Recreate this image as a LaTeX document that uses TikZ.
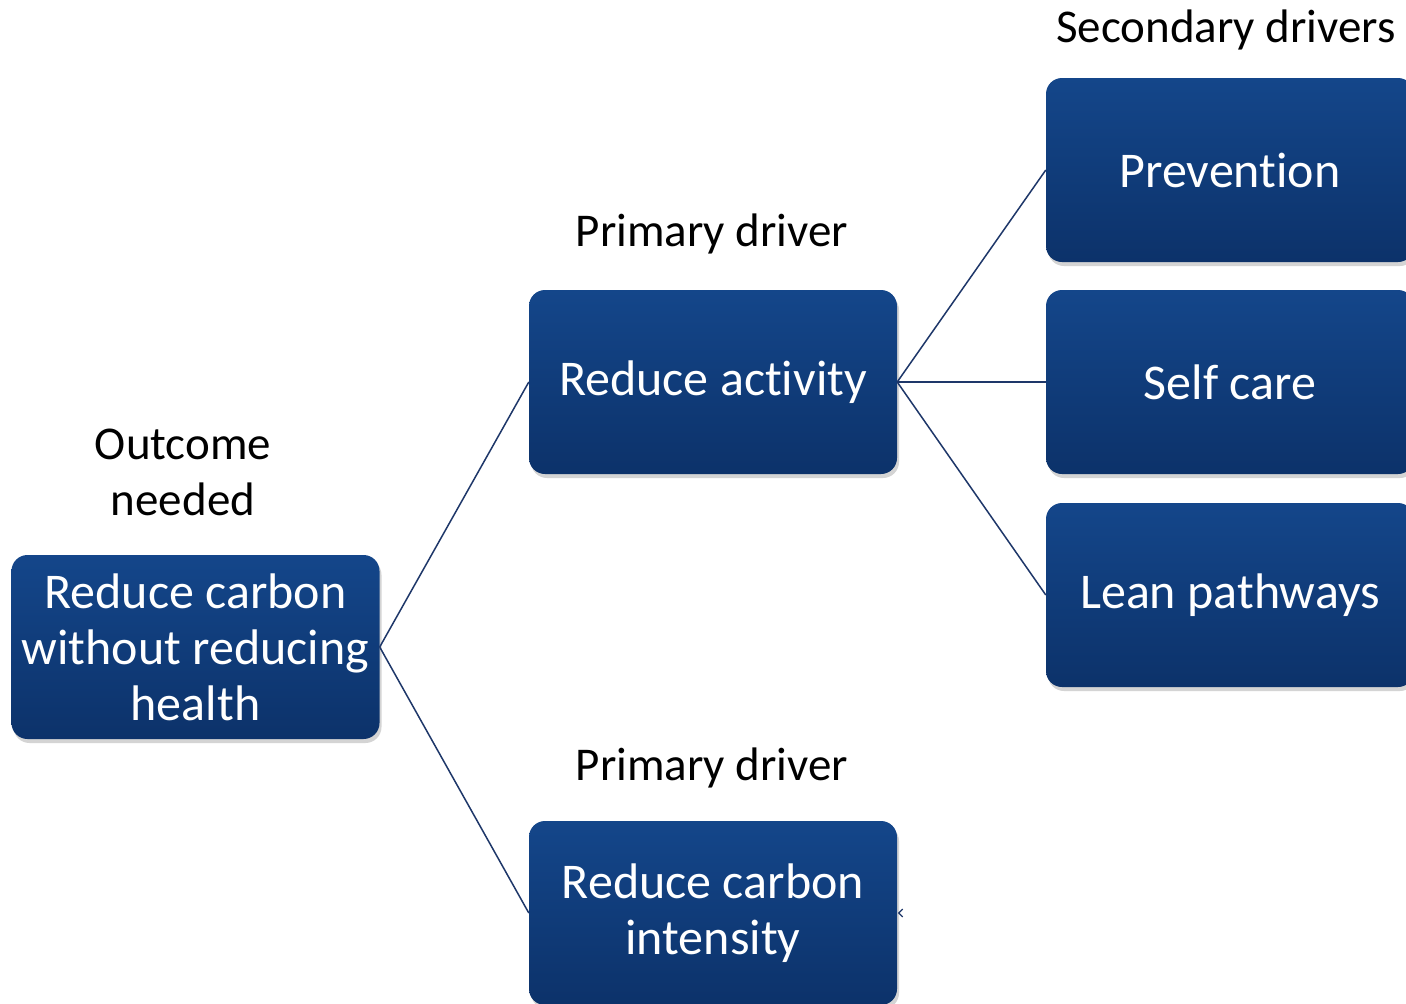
\documentclass[tikz,border=0pt]{standalone}
\usepackage{fontspec}
\setmainfont[Ligatures=NoCommon]{Carlito}
\usetikzlibrary{shadows,calc}
\definecolor{boxtop}{RGB}{20,70,138}
\definecolor{boxbot}{RGB}{12,50,106}
\definecolor{conncol}{RGB}{30,55,105}
\tikzset{
  drvbox/.style={rectangle, rounded corners=16pt, minimum width=368pt, minimum height=184pt,
    inner sep=0pt, top color=boxtop, bottom color=boxbot, draw=none, text=white,
    align=center, font=\fontsize{50}{56}\selectfont,
    drop shadow={shadow xshift=2pt, shadow yshift=-4pt, opacity=0.3, fill=black!55}},
  lbl/.style={text=black, align=center, font=\fontsize{47}{56}\selectfont, inner sep=0pt},
  conn/.style={draw=conncol, line width=1.5pt}
}
\begin{document}
\begin{tikzpicture}[x=1pt,y=-1pt]
\clip (0,0) rectangle (1406,1004);
\fill[white] (0,0) rectangle (1406,1004);
\node[drvbox] (out) at (195.5,647) {Reduce carbon\\without reducing\\health};
\node[drvbox] (ra) at (713,382) {Reduce activity};
\node[drvbox] (rci) at (713,913) {Reduce carbon\\intensity};
\node[drvbox] (prev) at (1230,170) {Prevention};
\node[drvbox] (self) at (1230,382) {Self care};
\node[drvbox] (lean) at (1230,595) {Lean pathways};
\node[lbl] (lsec) at (1226,30) {Secondary drivers};
\node[lbl] (lpd1) at (712,234) {Primary driver};
\node[lbl] (lpd2) at (712,768) {Primary driver};
\node[lbl] (lout) at (183,472) {Outcome\\needed};
\draw[conn] (out.east) -- (ra.west);
\draw[conn] (out.east) -- (rci.west);
\draw[conn] (ra.east) -- (prev.west);
\draw[conn] (ra.east) -- (self.west);
\draw[conn] (ra.east) -- (lean.west);
\coordinate (tip) at ($(rci.east)+(1.5,0)$);
\draw[conn, line width=1.2pt] ($(tip)+(4,-4)$) -- (tip) -- ($(tip)+(4,4)$);
\end{tikzpicture}
\end{document}
